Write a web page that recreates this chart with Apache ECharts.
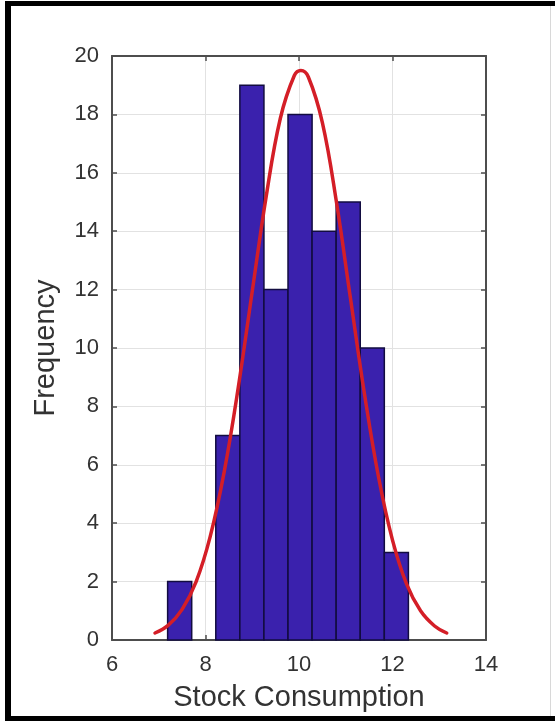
<!DOCTYPE html>
<html>
<head>
<meta charset="utf-8">
<script src="https://cdn.jsdelivr.net/npm/echarts@6/dist/echarts.min.js"></script>
<style>
  html, body { margin: 0; padding: 0; background: #fff; }
  #wrap { position: relative; width: 555px; height: 721px; overflow: hidden; }
  #chart { position: absolute; left: 0; top: 0; width: 555px; height: 721px; }
  .edge { position: absolute; background: #000; }
</style>
</head>
<body>
<div id="wrap">
  <div id="chart"></div>
  <div class="edge" style="left:5px; top:1px; width:550px; height:5px;"></div>
  <div class="edge" style="left:5px; top:1px; width:6px; height:720px;"></div>
  <div class="edge" style="left:5px; top:716px; width:550px; height:5px;"></div>
  <div class="edge" style="left:550px; top:6px; width:1px; height:710px; background:#d8d8d8;"></div>
</div>
<script>
// Histogram bins (edges) and counts per bin
const binEdges = [7.19, 7.705, 8.22, 8.735, 9.25, 9.765, 10.28, 10.795, 11.31, 11.825, 12.34];
const binCounts = [2, 0, 7, 19, 12, 18, 14, 15, 10, 3];

// Fitted normal curve, sampled points
const curveX = [6.92, 7.2, 7.5, 7.8, 8.1, 8.4, 8.7, 9.0, 9.3, 9.6, 9.9, 10.04, 10.2, 10.5, 10.8, 11.1, 11.4, 11.7, 12.0, 12.3, 12.6, 12.9, 13.16];
const curveY = [0.24, 0.50, 1.05, 2.00, 3.54, 5.76, 8.64, 11.94, 15.21, 17.86, 19.33, 19.50, 19.28, 17.72, 15.01, 11.71, 8.43, 5.59, 3.42, 1.92, 1.00, 0.48, 0.24];

// Axis ticks
const xTicks = [6, 8, 10, 12, 14];
const yTicks = [0, 2, 4, 6, 8, 10, 12, 14, 16, 18, 20];

const FONT = '"Liberation Sans", Arial, Helvetica, sans-serif';
const AXIS_COLOR = '#4d4d4d';
const TEXT_COLOR = '#333333';

const barData = binCounts.map((c, i) => [binEdges[i], binEdges[i + 1], c]);
const curveData = curveX.map((x, i) => [x, curveY[i]]);

const chart = echarts.init(document.getElementById('chart'), null, { renderer: 'canvas' });

const boxAxis = (extra) => Object.assign({
  type: 'value',
  axisLine: { show: true, onZero: false, lineStyle: { color: AXIS_COLOR, width: 2 } },
  axisTick: { show: true, inside: true, length: 5, lineStyle: { color: AXIS_COLOR, width: 1.5 } },
  splitLine: { show: false },
  axisLabel: { show: false }
}, extra);

chart.setOption({
  animation: false,
  backgroundColor: '#ffffff',
  grid: { left: 112, right: 69, top: 56, bottom: 81, containLabel: false },
  xAxis: [
    boxAxis({
      position: 'bottom',
      min: xTicks[0], max: xTicks[xTicks.length - 1], interval: xTicks[1] - xTicks[0],
      splitLine: { show: true, lineStyle: { color: '#e2e2e2', width: 1 } },
      axisLabel: { show: true, fontFamily: FONT, fontSize: 22, color: TEXT_COLOR, margin: 14 },
      name: 'Stock Consumption',
      nameLocation: 'middle',
      nameGap: 43,
      nameTextStyle: { fontFamily: FONT, fontSize: 29, color: TEXT_COLOR }
    }),
    boxAxis({
      position: 'top',
      min: xTicks[0], max: xTicks[xTicks.length - 1], interval: xTicks[1] - xTicks[0]
    })
  ],
  yAxis: [
    boxAxis({
      position: 'left',
      min: yTicks[0], max: yTicks[yTicks.length - 1], interval: yTicks[1] - yTicks[0],
      splitLine: { show: true, lineStyle: { color: '#e2e2e2', width: 1 } },
      axisLabel: { show: true, fontFamily: FONT, fontSize: 22, color: TEXT_COLOR, margin: 13 },
      name: 'Frequency',
      nameLocation: 'middle',
      nameGap: 52,
      nameTextStyle: { fontFamily: FONT, fontSize: 29, color: TEXT_COLOR }
    }),
    boxAxis({
      position: 'right',
      min: yTicks[0], max: yTicks[yTicks.length - 1], interval: yTicks[1] - yTicks[0]
    })
  ],
  series: [
    {
      type: 'custom',
      xAxisIndex: 0,
      yAxisIndex: 0,
      data: barData,
      encode: { x: [0, 1], y: 2 },
      renderItem: function (params, api) {
        const count = api.value(2);
        if (!count) return null;
        const p0 = api.coord([api.value(0), count]);
        const p1 = api.coord([api.value(1), 0]);
        return {
          type: 'rect',
          shape: { x: p0[0], y: p0[1], width: p1[0] - p0[0], height: p1[1] - p0[1] },
          style: { fill: '#3a21ad', stroke: '#120c40', lineWidth: 1.5 }
        };
      },
      z: 2
    },
    {
      type: 'line',
      xAxisIndex: 0,
      yAxisIndex: 0,
      data: curveData,
      smooth: 0.4,
      showSymbol: false,
      lineStyle: { color: '#d41e27', width: 3.5, cap: 'round' },
      z: 3
    }
  ]
});
</script>
</body>
</html>
